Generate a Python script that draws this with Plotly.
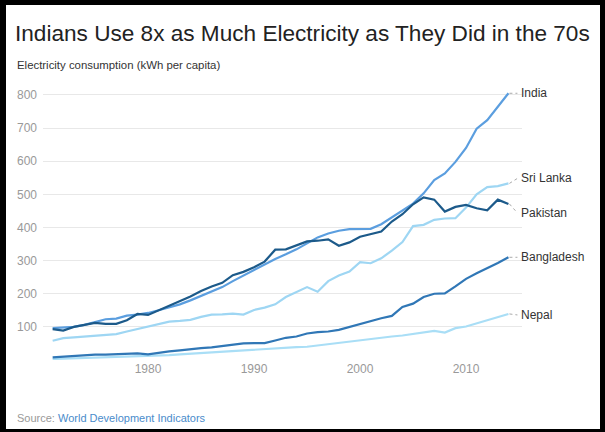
import plotly.graph_objects as go

years = list(range(1971, 2015))

india = [96, 98, 100, 106, 114, 123, 125, 134, 137, 142,
         150, 158, 168, 180, 193, 206, 220, 238, 255, 272,
         288, 305, 319, 334, 352, 370, 382, 390, 395, 396,
         396, 410, 430, 452, 472, 503, 543, 563, 598, 640,
         698, 724, 765, 805]
pakistan = [93, 89, 100, 107, 112, 109, 109, 120, 139, 136,
            150, 162, 176, 192, 208, 222, 233, 256, 266, 280,
            297, 333, 334, 345, 358, 360, 364, 345, 355, 372,
            380, 388, 418, 440, 470, 491, 484, 448, 462, 468,
            458, 452, 484, 471]
sri_lanka = [58, 66, 68, 71, 74, 76, 78, 86, 94, 101,
             110, 116, 118, 121, 130, 137, 138, 140, 137, 151,
             158, 168, 190, 205, 220, 206, 238, 255, 267, 295,
             292, 307, 330, 356, 404, 408, 423, 427, 428, 460,
             500, 522, 525, 533]
bangladesh = [8, 10, 14, 15, 16, 16, 17, 20, 20, 17,
              22, 26, 29, 33, 36, 38, 42, 45, 50, 51,
              51, 59, 67, 71, 80, 84, 86, 91, 100, 108,
              118, 126, 133, 160, 170, 190, 200, 201, 222, 245,
              262, 277, 293, 310]
nepal = [3, 4, 5, 6, 6, 7, 8, 9, 10, 11,
         13, 15, 17, 19, 22, 24, 27, 29, 31, 33,
         35, 36, 38, 39, 40, 44, 47, 52, 56, 61,
         64, 67, 71, 74, 78, 84, 88, 83, 96, 101,
         111, 119, 129, 139]

series_names = ["India", "Sri Lanka", "Pakistan", "Bangladesh", "Nepal"]
series_values = [india, sri_lanka, pakistan, bangladesh, nepal]
series_colors = ["#5b9edf", "#9ed6f3", "#1c5a8a", "#3077b6", "#a9def6"]
label_yshift = [0, 5, -9, 0, -1]
y_ticks = [100, 200, 300, 400, 500, 600, 700, 800]
x_ticks = [1980, 1990, 2000, 2010]

W, H = 605, 432
L, R, T, B = 43, 83, 85, 72
PW, PH = W - L - R, H - T - B

def px(x):
    return (x - L) / PW

def py(y):
    return (H - B - y) / PH

FONT = "Liberation Sans, Arial, sans-serif"

fig = go.Figure()
order = [4, 3, 1, 0, 2]
for i in order:
    fig.add_trace(go.Scatter(
        x=years, y=series_values[i], mode="lines", name=series_names[i],
        line=dict(color=series_colors[i], width=2.2), hoverinfo="skip",
        showlegend=False))

annotations = []
shapes = []
for name, vals, col, ys in zip(series_names, series_values, series_colors, label_yshift):
    annotations.append(dict(x=years[-1], y=vals[-1], xref="x", yref="y",
                            text=name, showarrow=False, xanchor="left",
                            yanchor="middle", xshift=11, yshift=ys,
                            font=dict(size=12, color="#333333", family=FONT)))
    shapes.append(dict(type="line", xref="x", yref="y",
                       xsizemode="pixel", ysizemode="pixel",
                       xanchor=years[-1], yanchor=vals[-1],
                       x0=1, y0=0, x1=9, y1=ys,
                       line=dict(color="#aaaaaa", width=1, dash="dot")))

annotations.append(dict(x=px(15), y=py(65), xref="paper", yref="paper",
                        text="Electricity consumption (kWh per capita)",
                        showarrow=False, xanchor="left", yanchor="middle",
                        font=dict(size=11.4, color="#333333", family=FONT)))
annotations.append(dict(x=px(15), y=py(418), xref="paper", yref="paper",
                        text="Source: <span style='color:#4a8ccb'>World Development Indicators</span>",
                        showarrow=False, xanchor="left", yanchor="middle",
                        font=dict(size=11, color="#999999", family=FONT)))

# black frame
for x0, y0, x1, y1 in [(0, 0, 6, H), (0, 0, W, 5), (600, 0, W, H), (0, 429, W, H)]:
    shapes.append(dict(type="rect", xref="paper", yref="paper",
                       x0=px(x0), x1=px(x1), y0=py(y1), y1=py(y0),
                       fillcolor="black", line=dict(width=0), layer="above"))

fig.update_layout(
    width=W, height=H,
    margin=dict(l=L, r=R, t=T, b=B, pad=0),
    paper_bgcolor="white", plot_bgcolor="white",
    title=dict(text="Indians Use 8x as Much Electricity as They Did in the 70s",
               x=15 / W, xanchor="left", y=1 - 33 / H, yanchor="middle",
               font=dict(size=22.6, color="#222222", family=FONT)),
    xaxis=dict(range=[1970.09, 2015.28], tickvals=x_ticks,
               ticktext=[str(t) for t in x_ticks], showgrid=False,
               zeroline=False, showline=False, ticks="",
               tickfont=dict(size=12, color="#999999", family=FONT)),
    yaxis=dict(range=[0, 830], tickvals=y_ticks,
               ticktext=[str(t) for t in y_ticks], showgrid=True,
               gridcolor="#e8e8e8", gridwidth=1, zeroline=False,
               showline=False, ticks="", ticklabelstandoff=5,
               tickfont=dict(size=12, color="#999999", family=FONT)),
    annotations=annotations, shapes=shapes,
)

fig.write_html("out.html")
